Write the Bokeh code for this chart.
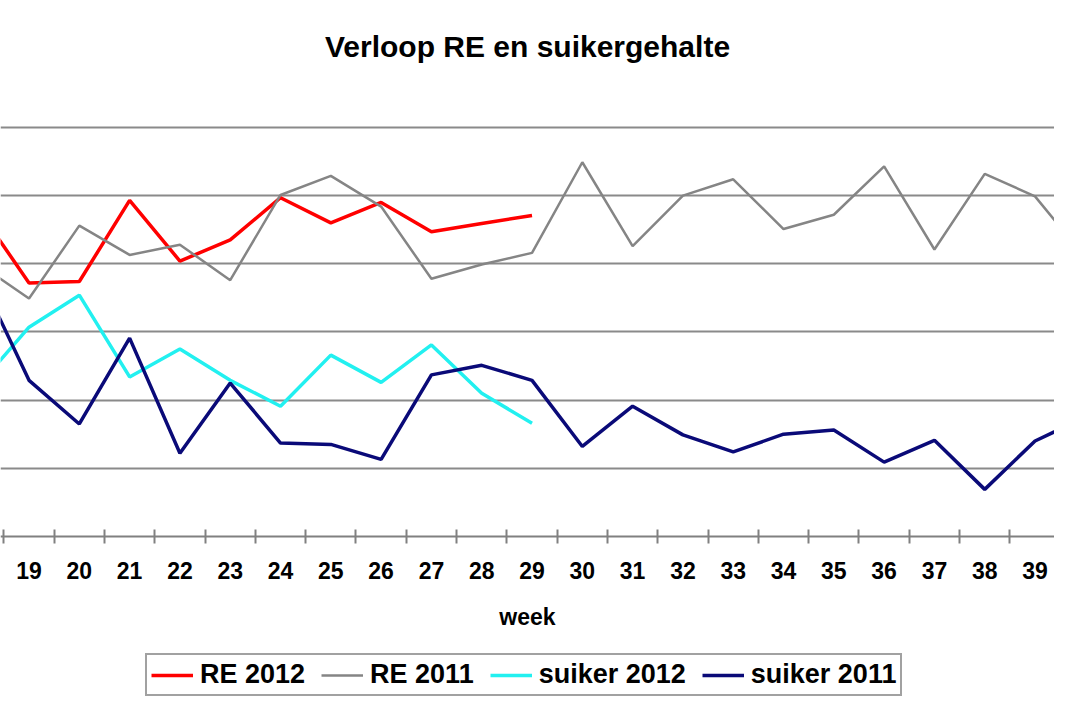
from bokeh.plotting import figure
from bokeh.models import FixedTicker, Legend, LegendItem, Range1d, LinearAxis
from bokeh.embed import file_html
from bokeh.resources import INLINE

# weeks
weeks_2011 = list(range(18, 41))
weeks_2012 = list(range(18, 30))

# RE 2012 (red)
re_2012 = [4.79, 3.72, 3.74, 4.93, 4.04, 4.35, 4.97, 4.60, 4.90, 4.47, 4.59, 4.71]
# RE 2011 (grey)
re_2011 = [4.00, 3.49, 4.56, 4.13, 4.28, 3.76, 5.01, 5.29, 4.84, 3.78, 3.99, 4.16,
           5.49, 4.26, 5.00, 5.24, 4.51, 4.72, 5.43, 4.21, 5.32, 4.99, 4.09]
# suiker 2012 (cyan)
suiker_2012 = [2.22, 3.07, 3.54, 2.34, 2.75, 2.29, 1.91, 2.66, 2.26, 2.81, 2.10, 1.66]
# suiker 2011 (navy)
suiker_2011 = [3.85, 2.29, 1.65, 2.91, 1.22, 2.25, 1.37, 1.35, 1.13, 2.37, 2.51, 2.29,
               1.32, 1.91, 1.49, 1.24, 1.50, 1.56, 1.09, 1.41, 0.69, 1.40, 1.75]

tick_weeks = list(range(18, 41))
tick_labels = {w: str(w) for w in tick_weeks}
grid_values = [1, 2, 3, 4, 5, 6]

FONT = "Liberation Sans"

p = figure(frame_width=1054, frame_height=604,
           x_range=Range1d(18.433, 39.387), y_range=Range1d(-2.364, 6.499),
           output_backend="svg", toolbar_location=None,
           x_axis_location=None,
           min_border_left=0, min_border_right=0, min_border_top=93,
           min_border_bottom=0,
           title="Verloop RE en suikergehalte")
p.outline_line_color = None
p.background_fill_color = "white"
p.border_fill_color = "white"

p.title.align = "center"
p.title.vertical_align = "top"
p.title.text_font = FONT
p.title.text_font_size = "30px"
p.title.text_font_style = "bold"
p.title.text_color = "black"
p.title.standoff = 58

p.xgrid.visible = False
p.yaxis.visible = False
p.ygrid.ticker = FixedTicker(ticks=grid_values)
p.ygrid.grid_line_color = "#8a8a8a"
p.ygrid.grid_line_width = 2

xa = LinearAxis(fixed_location=0)
xa.ticker = FixedTicker(ticks=tick_weeks, minor_ticks=[w + 0.5 for w in range(17, 41)])
xa.major_label_overrides = tick_labels
xa.major_tick_in = 0
xa.major_tick_out = 0
xa.minor_tick_in = 7
xa.minor_tick_out = 7
xa.minor_tick_line_color = "#808080"
xa.minor_tick_line_width = 2
xa.axis_line_color = "#808080"
xa.axis_line_width = 2
xa.major_label_text_font = FONT
xa.major_label_text_font_size = "23px"
xa.major_label_text_font_style = "bold"
xa.major_label_text_color = "black"
xa.major_label_standoff = 19
xa.axis_label = "week"
xa.axis_label_text_font = FONT
xa.axis_label_text_font_size = "23px"
xa.axis_label_text_font_style = "bold"
xa.axis_label_text_color = "black"
xa.axis_label_standoff = 21
p.add_layout(xa, "below")

r1 = p.line(weeks_2012, re_2012, line_color="#ff0000", line_width=3.5)
r2 = p.line(weeks_2011, re_2011, line_color="#858585", line_width=2.5)
r3 = p.line(weeks_2012, suiker_2012, line_color="#22f0f0", line_width=3.5)
r4 = p.line(weeks_2011, suiker_2011, line_color="#0a0a78", line_width=3.5)

legend = Legend(items=[
    LegendItem(label="RE 2012", renderers=[r1]),
    LegendItem(label="RE 2011", renderers=[r2]),
    LegendItem(label="suiker 2012", renderers=[r3]),
    LegendItem(label="suiker 2011", renderers=[r4]),
], orientation="horizontal", location=(145, 1))
legend.label_text_font = FONT
legend.label_text_font_size = "27px"
legend.label_text_font_style = "bold"
legend.label_text_color = "black"
legend.glyph_width = 42
legend.label_standoff = 7
legend.spacing = 16
legend.padding = 4
legend.margin = 0
legend.border_line_color = "#444444"
legend.border_line_width = 2
legend.background_fill_color = "white"
p.add_layout(legend, "center")

open("out.html", "w").write(file_html(p, INLINE))
